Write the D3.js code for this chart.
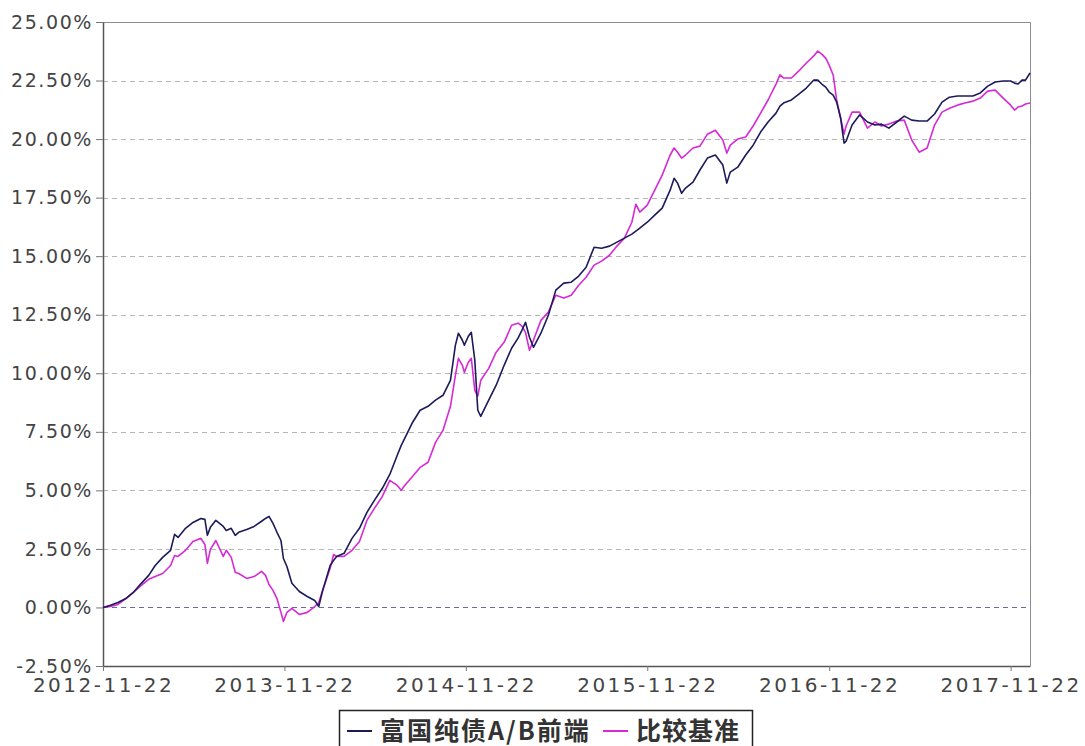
<!DOCTYPE html>
<html lang="zh">
  <head>
    <meta charset="UTF-8" />
    <title>富国纯债A/B前端</title>
    <script src="https://d3js.org/d3.v7.min.js"></script>
    <style>
      body { margin: 0; background: #fff; }
      svg { display: block; }
    </style>
  </head>
  <body>
    <svg width="1085" height="746"></svg>

    <script>
      // dates (shared by both series)
      var dates = [
        "2012-11-22","2012-12-07","2012-12-22","2013-01-07","2013-01-22","2013-02-07","2013-02-22","2013-03-07","2013-03-22","2013-04-07",
        "2013-04-15","2013-04-22","2013-05-07","2013-05-22","2013-06-07","2013-06-15","2013-06-20","2013-06-26","2013-07-07","2013-07-22",
        "2013-07-28","2013-08-07","2013-08-15","2013-08-22","2013-09-07","2013-09-22","2013-10-07","2013-10-15","2013-10-22","2013-10-30",
        "2013-11-07","2013-11-15","2013-11-20","2013-11-27","2013-12-07","2013-12-22","2014-01-07","2014-01-22","2014-01-30","2014-02-07",
        "2014-02-22","2014-03-01","2014-03-07","2014-03-22","2014-04-07","2014-04-22","2014-05-07","2014-05-22","2014-06-07","2014-06-22",
        "2014-07-07","2014-07-15","2014-07-22","2014-08-07","2014-08-22","2014-09-07","2014-09-22","2014-10-07","2014-10-22","2014-11-01",
        "2014-11-07","2014-11-15","2014-11-19","2014-11-27","2014-12-03","2014-12-10","2014-12-16","2014-12-22","2015-01-07","2015-01-22",
        "2015-02-07","2015-02-22","2015-03-07","2015-03-15","2015-03-22","2015-03-30","2015-04-07","2015-04-22","2015-05-07","2015-05-22",
        "2015-06-07","2015-06-22","2015-07-07","2015-07-22","2015-08-07","2015-08-22","2015-09-07","2015-09-22","2015-10-07","2015-10-22",
        "2015-10-30","2015-11-07","2015-11-22","2015-12-07","2015-12-22","2016-01-07","2016-01-15","2016-01-22","2016-01-30","2016-02-07",
        "2016-02-22","2016-03-07","2016-03-22","2016-04-07","2016-04-22","2016-04-30","2016-05-07","2016-05-22","2016-06-07","2016-06-22",
        "2016-07-07","2016-07-22","2016-08-07","2016-08-15","2016-08-22","2016-09-07","2016-09-22","2016-10-07","2016-10-22","2016-10-30",
        "2016-11-07","2016-11-15","2016-11-22","2016-11-30","2016-12-07","2016-12-15","2016-12-22","2016-12-26","2017-01-07","2017-01-22",
        "2017-02-07","2017-02-22","2017-03-07","2017-03-22","2017-04-07","2017-04-22","2017-05-07","2017-05-22","2017-06-07","2017-06-22",
        "2017-07-07","2017-07-22","2017-08-07","2017-08-22","2017-09-07","2017-09-22","2017-10-07","2017-10-22","2017-11-07","2017-11-22",
        "2017-11-30","2017-12-07","2017-12-15","2017-12-22","2017-12-31"
      ];

      // 富国纯债A/B前端, cumulative return in %
      var fundValues = [
        0.00,0.09,0.21,0.38,0.64,1.03,1.37,1.79,2.14,2.44,
        3.12,2.99,3.38,3.63,3.80,3.76,3.08,3.42,3.72,3.46,
        3.29,3.38,3.08,3.21,3.33,3.46,3.68,3.80,3.89,3.59,
        3.21,2.86,2.09,1.75,1.03,0.68,0.47,0.30,0.04,0.73,
        1.79,2.01,2.18,2.31,2.95,3.38,4.06,4.57,5.09,5.68,
        6.50,6.92,7.22,7.91,8.42,8.59,8.85,9.06,9.70,11.20,
        11.71,11.41,11.20,11.58,11.75,10.56,8.42,8.16,8.85,9.49,
        10.34,11.07,11.50,11.84,12.18,11.54,11.11,11.71,12.48,13.55,
        13.85,13.89,14.15,14.53,15.38,15.34,15.43,15.60,15.77,15.94,
        16.07,16.20,16.45,16.75,17.05,17.82,18.33,18.12,17.69,17.91,
        18.16,18.68,19.19,19.32,18.89,18.12,18.59,18.80,19.32,19.74,
        20.30,20.73,21.11,21.41,21.54,21.67,21.92,22.18,22.52,22.52,
        22.35,22.22,22.01,21.88,21.58,20.90,19.83,19.91,20.60,21.03,
        20.73,20.60,20.64,20.47,20.73,20.98,20.81,20.77,20.77,21.07,
        21.58,21.79,21.84,21.84,21.84,21.97,22.26,22.44,22.48,22.48,
        22.39,22.35,22.52,22.52,22.82
      ];

      // 比较基准, cumulative return in %
      var benchValues = [
        0.00,0.04,0.13,0.38,0.64,0.94,1.20,1.32,1.45,1.79,
        2.22,2.18,2.44,2.82,2.95,2.69,1.88,2.48,2.86,2.18,
        2.44,2.14,1.50,1.45,1.24,1.32,1.54,1.37,0.98,0.73,
        0.38,-0.21,-0.60,-0.21,-0.04,-0.30,-0.21,0.04,0.21,0.73,
        1.67,2.26,2.18,2.18,2.44,2.82,3.72,4.23,4.74,5.43,
        5.21,5.00,5.21,5.60,5.98,6.20,7.05,7.56,8.59,9.91,
        10.64,10.34,10.04,10.47,10.64,9.27,9.02,9.70,10.21,10.90,
        11.32,12.05,12.14,12.01,11.75,10.98,11.41,12.26,12.61,13.33,
        13.21,13.33,13.76,14.10,14.62,14.79,15.04,15.43,15.77,16.45,
        17.22,16.88,17.18,17.82,18.46,19.32,19.62,19.44,19.19,19.32,
        19.62,19.70,20.21,20.38,19.96,19.40,19.74,20.00,20.09,20.56,
        21.11,21.67,22.35,22.74,22.61,22.61,22.91,23.25,23.55,23.76,
        23.63,23.46,23.16,22.74,21.67,20.90,20.21,20.56,21.15,21.15,
        20.47,20.73,20.56,20.64,20.77,20.81,19.96,19.44,19.62,20.60,
        21.15,21.32,21.45,21.54,21.62,21.75,22.05,22.09,21.75,21.45,
        21.24,21.37,21.41,21.50,21.54
      ];

      var yTicks = [-2.5, 0, 2.5, 5, 7.5, 10, 12.5, 15, 17.5, 20, 22.5, 25];
      var xTicks = ["2012-11-22","2013-11-22","2014-11-22","2015-11-22","2016-11-22","2017-11-22"];
      var seriesNames = ["富国纯债A/B前端", "比较基准"];
      var seriesColors = ["#1c1a5a", "#d62ad6"];

      var parse = d3.timeParse("%Y-%m-%d");
      var svg = d3.select("svg");
      var plotLeft = 103, plotRight = 1030, plotTop = 22, plotBottom = 666;

      var x = d3.scaleTime()
        .domain([parse(dates[0]), parse(dates[dates.length - 1])])
        .range([plotLeft, plotRight]);
      var y = d3.scaleLinear().domain([-2.5, 25]).range([plotBottom, plotTop]);

      // horizontal grid
      svg.append("g")
        .selectAll("line")
        .data(yTicks.filter(function (d) { return d > -2.5 && d < 25; }))
        .enter()
        .append("line")
        .attr("x1", plotLeft)
        .attr("x2", plotRight)
        .attr("y1", function (d) { return Math.round(y(d)) + 0.5; })
        .attr("y2", function (d) { return Math.round(y(d)) + 0.5; })
        .attr("stroke", function (d) { return d === 0 ? "#6a6aa8" : "#b4b4b4"; })
        .attr("stroke-width", 1)
        .attr("stroke-dasharray", "5,4");

      // plot frame (top / right)
      svg.append("path")
        .attr("d", "M" + plotLeft + "," + (plotTop + 0.5) + "H" + (plotRight + 0.5) + "V" + plotBottom)
        .attr("fill", "none")
        .attr("stroke", "#8c8c8c")
        .attr("stroke-width", 1);

      // y axis
      var yAxis = svg.append("g")
        .attr("transform", "translate(" + plotLeft + ",0)")
        .call(d3.axisLeft(y).tickValues(yTicks).tickSize(7).tickSizeOuter(0)
          .tickFormat(function (d) { return d.toFixed(2) + "%"; }));

      // x axis
      var xAxis = svg.append("g")
        .attr("transform", "translate(0," + plotBottom + ")")
        .call(d3.axisBottom(x).tickValues(xTicks.map(parse)).tickSize(5).tickSizeOuter(0)
          .tickFormat(d3.timeFormat("%Y-%m-%d")));

      [yAxis, xAxis].forEach(function (ax) {
        ax.select(".domain").attr("stroke", "#555").attr("stroke-width", 1.5);
        ax.selectAll(".tick line").attr("stroke", "#777");
        ax.selectAll("text")
          .attr("fill", "#444")
          .style("font-family", "DejaVu Sans")
          .style("font-size", "20px")
          .style("letter-spacing", "2.5px");
      });
      yAxis.selectAll("text")
        .attr("x", -10)
        .attr("dy", "0.32em")
        .style("font-size", "19px")
        .style("letter-spacing", "1.6px");
      xAxis.selectAll("text").attr("y", 12).attr("dy", "0.71em");

      // series lines
      var line = d3.line()
        .x(function (d) { return x(d.date); })
        .y(function (d) { return y(d.value); });

      [benchValues, fundValues].forEach(function (vals) {
        var idx = vals === fundValues ? 0 : 1;
        var pts = dates.map(function (s, i) { return { date: parse(s), value: vals[i] }; });
        svg.append("path")
          .datum(pts)
          .attr("d", line)
          .attr("fill", "none")
          .attr("stroke", seriesColors[idx])
          .attr("stroke-width", 1.6)
          .attr("stroke-linejoin", "round");
      });

      // legend
      var legend = svg.append("g");
      legend.append("rect")
        .attr("x", 339.5).attr("y", 710.5)
        .attr("width", 413).attr("height", 50)
        .attr("fill", "#fff")
        .attr("stroke", "#222").attr("stroke-width", 1.5);

      var legendX = [347, 603];
      seriesNames.forEach(function (name, i) {
        legend.append("line")
          .attr("x1", legendX[i]).attr("x2", legendX[i] + 25)
          .attr("y1", 731).attr("y2", 731)
          .attr("stroke", seriesColors[i]).attr("stroke-width", 2);
        legend.append("text")
          .attr("x", legendX[i] + 33).attr("y", 740)
          .attr("fill", "#333")
          .style("font-family", "'Noto Sans CJK SC'")
          .style("font-size", "25px")
          .style("font-weight", "bold")
          .style("letter-spacing", i === 0 ? "2px" : "1px")
          .text(name);
      });
    </script>
  </body>
</html>
